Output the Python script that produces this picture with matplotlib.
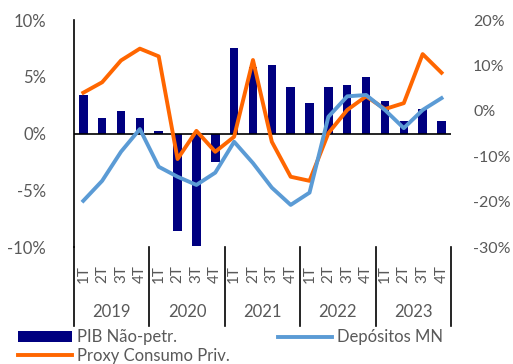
import numpy as np
import matplotlib.pyplot as plt
import matplotlib.transforms as mtransforms

plt.rcParams['font.family'] = ['Lato', 'DejaVu Sans']

# quarterly data, 2019 Q1 - 2023 Q4
years = ["2019", "2020", "2021", "2022", "2023"]
quarters = ["1T", "2T", "3T", "4T"]
pib = [3.4, 1.4, 2.0, 1.4, 0.2, -8.6, -9.9, -2.5,
       7.5, 5.9, 6.0, 4.1, 2.7, 4.1, 4.3, 5.0,
       2.9, 1.1, 2.2, 1.1]
consumo = [4.0, 6.3, 11.1, 13.7, 12.0, -10.6, -4.4, -9.0,
           -5.7, 11.2, -6.8, -14.5, -15.4, -4.9, 0.2, 3.2,
           0.4, 1.7, 12.5, 8.4]
depositos = [-19.8, -15.4, -9.0, -4.0, -12.3, -14.5, -16.3, -13.6,
             -6.8, -11.5, -16.9, -20.7, -18.0, -1.3, 3.2, 3.5,
             0.2, -3.8, 0.2, 2.8]

grey = "#595959"
x = np.arange(len(pib))

fig = plt.figure(figsize=(5.13, 3.64), dpi=100)
ax = fig.add_axes([0.144, 0.321, 0.735, 0.624])
ax2 = ax.twinx()

b = ax.bar(x, pib, width=0.45, color="#000080", label="PIB Não-petr.", zorder=2)
ax.axhline(0, color="black", lw=1.2, zorder=3)
l1, = ax2.plot(x, consumo, color="#FF6600", lw=2.8, label="Proxy Consumo Priv.")
l2, = ax2.plot(x, depositos, color="#5B9BD5", lw=2.8, label="Depósitos MN")

ax.set_xlim(-0.5, len(pib) - 0.5)
ax.set_ylim(-10, 10)
ax2.set_ylim(-30, 20)
ax.set_yticks([-10, -5, 0, 5, 10])
ax.set_yticklabels(["-10%", "-5%", "0%", "5%", "10%"])
ax2.set_yticks([-30, -20, -10, 0, 10, 20])
ax2.set_yticklabels(["-30%", "-20%", "-10%", "0%", "10%", "20%"])
ax.tick_params(axis="y", length=0, labelsize=12, labelcolor=grey, pad=20)
ax2.tick_params(axis="y", length=0, labelsize=11.5, labelcolor=grey, pad=16)
ax.set_xticks([])

for a in (ax, ax2):
    for s in ("top", "right", "bottom"):
        a.spines[s].set_visible(False)
ax2.spines["left"].set_visible(False)
ax.spines["left"].set_color("black")
ax.spines["left"].set_linewidth(1.2)

# category axis below the plot
trans = mtransforms.blended_transform_factory(ax.transData, ax.transAxes)
for i in range(len(pib)):
    ax.text(x[i], -0.12, quarters[i % 4], rotation=90, ha="center", va="center",
            fontsize=11, color=grey, transform=trans)
for k, yr in enumerate(years):
    ax.text(4 * k + 1.5, -0.285, yr, ha="center", va="center",
            fontsize=12, color=grey, transform=trans)
for k in range(len(years) + 1):
    ax.plot([4 * k - 0.5, 4 * k - 0.5], [0, -0.345], color="black", lw=1.2,
            transform=trans, clip_on=False)

fig.legend([b, l1, l2], ["PIB Não-petr.", "Proxy Consumo Priv.", "Depósitos MN"],
           ncol=2, loc="upper left", bbox_to_anchor=(0.035, 0.095), frameon=False,
           fontsize=12, labelcolor=grey, handlelength=3.25, handletextpad=0.3,
           columnspacing=2.9, borderpad=0, labelspacing=0.15, borderaxespad=0)

fig.savefig("out.png", dpi=100)
